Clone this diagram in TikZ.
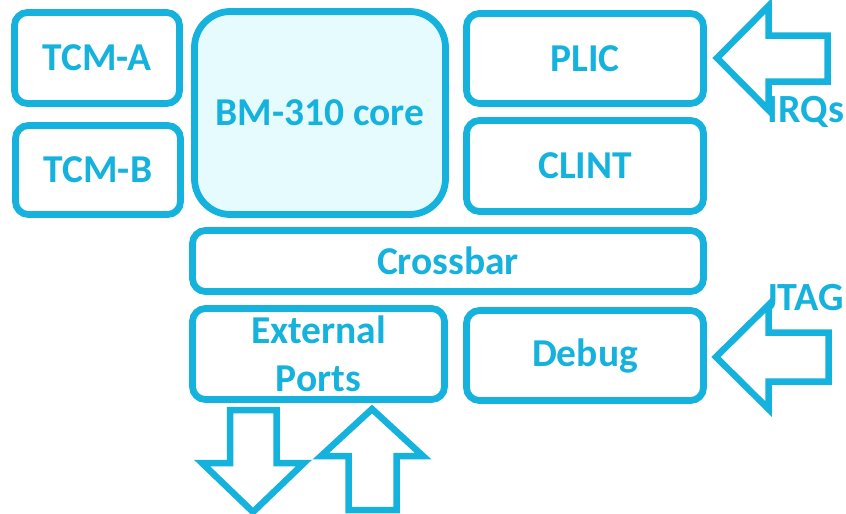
\documentclass[tikz,border=0pt]{standalone}
\usepackage{fontspec}
\setmainfont{Carlito}
\definecolor{cy}{RGB}{22,178,222}
\definecolor{corefill}{RGB}{230,251,254}
\begin{document}
\begin{tikzpicture}[x=1pt,y=-1pt,
  blk/.style={draw=cy, line width=6.8pt, rounded corners=13pt, text=cy,
    font=\fontsize{39.5}{48}\selectfont\bfseries, inner sep=0pt, outer sep=0pt,
    align=center},
  barrow/.style={draw=cy, line width=6.5pt, line join=miter, fill=white},
  lbl/.style={text=cy, font=\fontsize{40}{46}\selectfont\bfseries, inner sep=0pt}]
\useasboundingbox (0,0) rectangle (846,514);
\node[blk, minimum width=165pt, minimum height=91pt] (tcma) at (97,58) {TCM-A};
\node[blk, minimum width=165pt, minimum height=89pt] (tcmb) at (98,170) {TCM-B};
\node[blk, fill=corefill, rounded corners=36pt, minimum width=251pt, minimum height=203pt] (core) at (320,113) {};
\node[text=cy, font=\fontsize{39.5}{48}\selectfont\bfseries] (coretext) at (320,113) {BM-310 core};
\node[blk, minimum width=237pt, minimum height=90pt] (plic) at (585,58.5) {PLIC};
\node[blk, minimum width=237pt, minimum height=91pt] (clint) at (585,166) {CLINT};
\node[blk, minimum width=511pt, minimum height=61pt] (xbar) at (448,261) {Crossbar};
\node[blk, minimum width=252pt, minimum height=91pt] (ext) at (318.5,354) {External\\Ports};
\node[blk, minimum width=237pt, minimum height=90pt] (dbg) at (585,355.5) {Debug};
% IRQ arrow
\draw[barrow] (717,58) -- (768.5,6) -- (768.5,35.5) -- (827.5,35.5) -- (827.5,81.5) -- (768.5,81.5) -- (768.5,110) -- cycle;
\node[lbl] (irq) at (806,112) {IRQs};
% JTAG arrow
\draw[barrow] (716,357) -- (768.5,305) -- (768.5,332.5) -- (828.5,332.5) -- (828.5,381.5) -- (768.5,381.5) -- (768.5,409) -- cycle;
\node[lbl] (jtag) at (804,298) {JTAG};
% down arrow
\draw[barrow] (230,410) -- (276.5,410) -- (276.5,463) -- (304,463) -- (253,512) -- (202,463) -- (230,463) -- cycle;
% up arrow
\draw[barrow] (372,409) -- (423,456) -- (396.5,456) -- (396.5,510) -- (348.5,510) -- (348.5,456) -- (321,456) -- cycle;
\end{tikzpicture}
\end{document}
